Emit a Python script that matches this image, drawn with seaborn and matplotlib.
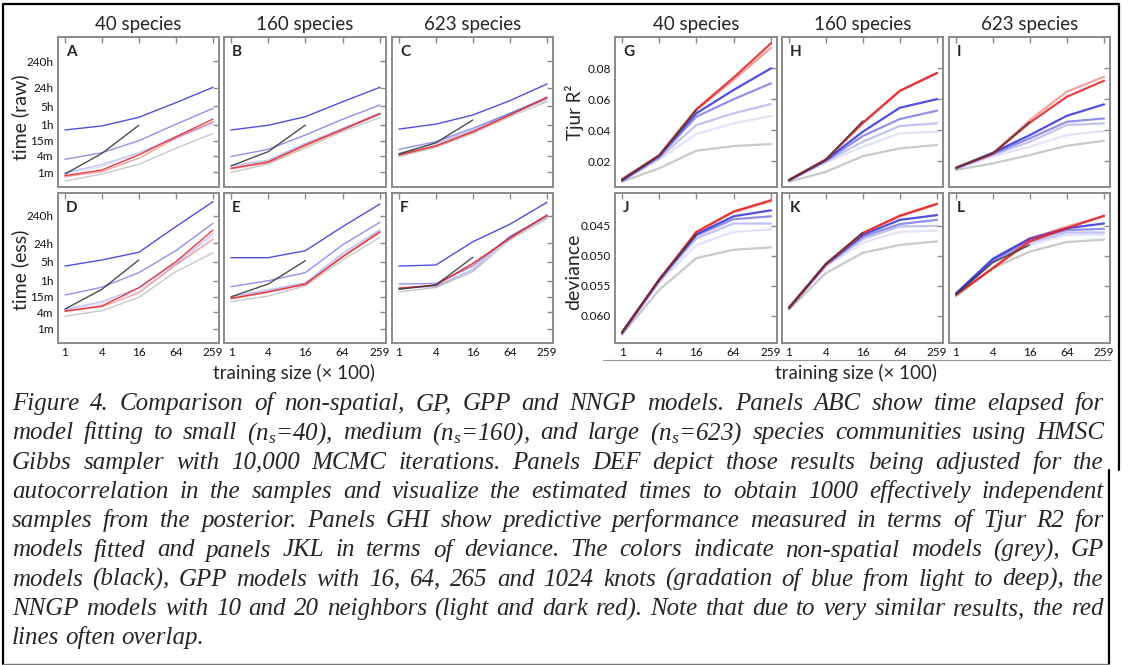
import matplotlib
matplotlib.use("Agg")
import matplotlib.pyplot as plt
import seaborn as sns
from matplotlib.lines import Line2D
from matplotlib.ticker import FixedLocator, NullLocator, FixedFormatter

# ---------------------------------------------------------------------------
# data
# ---------------------------------------------------------------------------
sizes = [1, 4, 16, 64, 259]
gp_sizes = [1, 4, 16]
species = ["40 species", "160 species", "623 species"]
series = ["non-spatial", "GPP 16", "GPP 64", "GPP 265", "GPP 1024", "NNGP 10", "NNGP 20"]

# time (raw), minutes; rows follow `series`
raw_40 = [[0.46, 0.84, 1.95, 7.8, 28], [0.85, 1.6, 4.6, 19, 62], [0.95, 1.9, 5.3, 21, 72],
          [3.0, 5.3, 15, 62, 247], [38, 54, 114, 403, 1530], [0.67, 1.03, 3.3, 18.5, 78],
          [0.73, 1.19, 4.4, 21, 98]]
raw_160 = [[0.97, 2.0, 8, 33, 113], [1.5, 2.5, 11, 40, 145], [1.7, 2.8, 12, 44, 160],
           [3.8, 7.1, 24.6, 96, 330], [38, 57, 120, 437, 1530], [1.3, 2.2, 9.5, 37, 150],
           [1.38, 2.4, 10.4, 40, 160]]
raw_623 = [[3.8, 8.5, 28, 120, 440], [4.5, 10.5, 34, 145, 500], [5.0, 12, 37, 160, 540],
           [7.1, 13.8, 44, 160, 643], [41, 63, 139, 480, 2040], [4.2, 9.3, 31, 135, 620],
           [4.4, 9.7, 33, 139, 643]]
gp_raw = [[0.84, 5.0, 57], [1.7, 5.8, 58], [4.75, 12.6, 90]]

# time (ess), minutes
ess_40 = [[2.9, 4.6, 14.4, 127, 634], [4.8, 8.5, 25, 230, 2600], [5.2, 9.9, 32, 260, 3300],
          [17.5, 34, 117, 755, 7760], [205, 343, 660, 5800, 48700], [4.3, 6.5, 21, 224, 1990],
          [4.5, 6.9, 32.6, 296, 4370]]
ess_160 = [[9.9, 16, 38, 343, 2350], [14, 25, 46, 520, 4000], [15.5, 27, 50, 600, 4500],
           [35.5, 59, 117, 1230, 8500], [417, 417, 755, 5800, 40000], [12.5, 22, 42, 430, 3500],
           [13.2, 23, 44.5, 453, 3800]]
ess_623 = [[23, 33, 127, 1900, 11500], [31, 35, 140, 2300, 12500], [33, 37, 155, 2500, 13500],
           [44.5, 47, 205, 2500, 14800], [205, 224, 1620, 7100, 46000], [30, 40, 240, 2100, 15000],
           [31, 41, 258, 2170, 15800]]
gp_ess = [[5.3, 28.5, 343], [15, 44.5, 324], [28.5, 41, 430]]

# Tjur R2
r2_40 = [[0.0066, 0.0153, 0.0267, 0.0297, 0.031], [0.0070, 0.0210, 0.0375, 0.0444, 0.0491],
         [0.0072, 0.0220, 0.0433, 0.0509, 0.0569], [0.0074, 0.0228, 0.0487, 0.060, 0.0703],
         [0.0075, 0.0235, 0.0509, 0.066, 0.080], [0.0080, 0.0236, 0.0530, 0.0725, 0.0933],
         [0.0082, 0.0237, 0.0535, 0.074, 0.0962]]
r2_160 = [[0.0066, 0.013, 0.0232, 0.0282, 0.0304], [0.0072, 0.019, 0.0293, 0.0379, 0.039],
          [0.0074, 0.0198, 0.0325, 0.0427, 0.0444], [0.0075, 0.0203, 0.0362, 0.0472, 0.0526],
          [0.0076, 0.0207, 0.039, 0.0545, 0.0601], [0.0077, 0.021, 0.0445, 0.0652, 0.0768],
          [0.0078, 0.021, 0.0448, 0.0655, 0.0771]]
r2_623 = [[0.0142, 0.0185, 0.0239, 0.0299, 0.0331], [0.0150, 0.023, 0.0293, 0.0368, 0.0394],
          [0.0152, 0.024, 0.0325, 0.0433, 0.0444], [0.0154, 0.0248, 0.0347, 0.0454, 0.0476],
          [0.0156, 0.0254, 0.0368, 0.0493, 0.0567], [0.0157, 0.025, 0.0465, 0.0649, 0.0746],
          [0.0156, 0.0248, 0.0448, 0.0616, 0.072]]
gp_r2 = [[0.0080, 0.0236, 0.0530], [0.0077, 0.021, 0.046], [0.0156, 0.025, 0.0454]]

# deviance
dev_40 = [[0.0632, 0.0557, 0.0504, 0.049, 0.0486], [0.0631, 0.0545, 0.0482, 0.046, 0.0456],
          [0.0630, 0.0543, 0.0471, 0.0446, 0.0446], [0.0629, 0.0541, 0.0466, 0.0439, 0.0434],
          [0.0629, 0.054, 0.0464, 0.0434, 0.0424], [0.0628, 0.054, 0.0461, 0.0427, 0.0409],
          [0.0628, 0.054, 0.046, 0.0426, 0.0407]]
dev_160 = [[0.059, 0.0529, 0.0495, 0.0482, 0.0476], [0.0589, 0.0518, 0.0478, 0.046, 0.0458],
           [0.0588, 0.0516, 0.0472, 0.0451, 0.045], [0.0588, 0.0515, 0.0468, 0.0447, 0.044],
           [0.0587, 0.0514, 0.0465, 0.044, 0.0432], [0.0587, 0.0514, 0.0462, 0.0434, 0.0414],
           [0.0587, 0.0514, 0.0462, 0.0433, 0.0413]]
dev_623 = [[0.0568, 0.0521, 0.0493, 0.0477, 0.0473], [0.0565, 0.0513, 0.0482, 0.0465, 0.0465],
           [0.0564, 0.051, 0.0478, 0.0461, 0.0461], [0.0564, 0.0508, 0.0473, 0.0457, 0.0455],
           [0.0563, 0.0505, 0.0471, 0.0454, 0.0446], [0.0566, 0.052, 0.0472, 0.0451, 0.0434],
           [0.0565, 0.0521, 0.0476, 0.0454, 0.0433]]
gp_dev = [[0.0628, 0.054, 0.0463], [0.0587, 0.0513, 0.0461], [0.0565, 0.0511, 0.0482]]

time_ticks = [1, 4, 15, 60, 300, 1440, 14400]
time_labels = ["1m", "4m", "15m", "1h", "5h", "24h", "240h"]
r2_ticks = [0.02, 0.04, 0.06, 0.08]
dev_ticks = [0.045, 0.050, 0.055, 0.060]

caption_lines = [
    "Figure 4. Comparison of non-spatial, GP, GPP and NNGP models. Panels ABC show time elapsed for",
    "model fitting to small (n$_s$=40), medium (n$_s$=160), and large (n$_s$=623) species communities using HMSC",
    "Gibbs sampler with 10,000 MCMC iterations. Panels DEF depict those results being adjusted for the",
    "autocorrelation in the samples and visualize the estimated times to obtain 1000 effectively independent",
    "samples from the posterior. Panels GHI show predictive performance measured in terms of Tjur R2 for",
    "models fitted and panels JKL in terms of deviance. The colors indicate non-spatial models (grey), GP",
    "models (black), GPP models with 16, 64, 265 and 1024 knots (gradation of blue from light to deep), the",
    "NNGP models with 10 and 20 neighbors (light and dark red). Note that due to very similar results, the red",
    "lines often overlap.",
]

# ---------------------------------------------------------------------------
# style
# ---------------------------------------------------------------------------
sns.set_style("white")
plt.rcParams["font.family"] = ["Lato", "DejaVu Sans"]
plt.rcParams["mathtext.fontset"] = "custom"
plt.rcParams["mathtext.it"] = "Liberation Serif:italic"
plt.rcParams["mathtext.rm"] = "Liberation Serif:italic"

colors = ["#c9c9c9", "#2424d8", "#2424d8", "#2424d8", "#2424d8", "#e83030", "#e02020"]
alphas = [1.0, 0.13, 0.28, 0.5, 0.8, 0.45, 0.85]

W, H = 1131, 665
fig = plt.figure(figsize=(W / 100, H / 100), dpi=100)


def px(x, y):
    return x / W, 1 - y / H


def add_axes(x0, x1, y0, y1):
    return fig.add_axes([x0 / W, 1 - y1 / H, (x1 - x0) / W, (y1 - y0) / H])


col_x = [(58, 219), (224, 386), (392, 553), (615, 777), (782, 943), (949, 1110)]
row_y = [(37, 187), (193, 343)]
letters = ["A", "B", "C", "G", "H", "I", "D", "E", "F", "J", "K", "L"]

panels = [[raw_40, raw_160, raw_623, r2_40, r2_160, r2_623],
          [ess_40, ess_160, ess_623, dev_40, dev_160, dev_623]]
gps = [[*gp_raw, *gp_r2], [*gp_ess, *gp_dev]]

for r in range(2):
    for c in range(6):
        ax = add_axes(*col_x[c], *row_y[r])
        rows = panels[r][c]
        is_time = c < 3
        lw = 1.0 if is_time else 1.6
        for name, vals, col, a in zip(series, rows, colors, alphas):
            sns.lineplot(x=sizes, y=vals, ax=ax, color=col, alpha=a, lw=lw)
        sns.lineplot(x=gp_sizes, y=gps[r][c], ax=ax, color="#3a3a3a", alpha=0.9, lw=1.0)

        ax.set_xscale("log", base=4)
        ax.set_xlim(0.77, 324)
        ax.xaxis.set_major_locator(FixedLocator(sizes))
        ax.xaxis.set_minor_locator(NullLocator())
        ax.xaxis.set_major_formatter(FixedFormatter([str(s) for s in sizes]))

        if is_time:
            ax.set_yscale("log")
            ax.set_ylim((0.273, 1.19e5) if r == 0 else (0.297, 1.016e5))
            ax.yaxis.set_major_locator(FixedLocator(time_ticks))
            ax.yaxis.set_minor_locator(NullLocator())
            ax.yaxis.set_major_formatter(FixedFormatter(time_labels))
        elif r == 0:
            ax.set_ylim(0.0032, 0.1003)
            ax.yaxis.set_major_locator(FixedLocator(r2_ticks))
            ax.yaxis.set_major_formatter(FixedFormatter(["0.02", "0.04", "0.06", "0.08"]))
        else:
            ax.set_ylim(0.0646, 0.0395)
            ax.yaxis.set_major_locator(FixedLocator(dev_ticks))
            ax.yaxis.set_major_formatter(FixedFormatter(["0.045", "0.050", "0.055", "0.060"]))

        ax.tick_params(direction="in", length=4, width=1, color="#8a8a8a", top=True, right=True,
                       labelsize=8.5, labelcolor="#111111", pad=3)
        if r == 0:
            ax.tick_params(labelbottom=False)
        if c not in (0, 3):
            ax.tick_params(labelleft=False)
        for sp in ax.spines.values():
            sp.set_color("#8a8a8a")
            sp.set_linewidth(1.4)
        ax.set_xlabel("")
        ax.set_ylabel("")
        ax.text(0.05, 0.9, letters[r * 6 + c], transform=ax.transAxes, fontsize=11,
                fontweight="bold", va="center", ha="left")
        if r == 0:
            ax.set_title(species[c % 3], fontsize=13.5, pad=5)

# axis labels
fig.text(*px(20, 117), "time (raw)", rotation=90, ha="center", va="center", fontsize=14)
fig.text(*px(20, 270), "time (ess)", rotation=90, ha="center", va="center", fontsize=14)
fig.text(*px(575, 112), "Tjur R²", rotation=90, ha="center", va="center", fontsize=13.5)
fig.text(*px(574, 272), "deviance", rotation=90, ha="center", va="center", fontsize=14)
fig.text(*px(294, 373), "training size (× 100)", ha="center", va="center", fontsize=13.5)
fig.text(*px(856, 373), "training size (× 100)", ha="center", va="center", fontsize=13.5)

# frame lines
fig.add_artist(Line2D([px(603, 0)[0], px(1110, 0)[0]], [px(0, 360)[1]] * 2, color="#999999", lw=0.8))
fig.add_artist(Line2D([px(3, 0)[0], px(1119, 0)[0]], [px(0, 4)[1]] * 2, color="black", lw=1.6))
fig.add_artist(Line2D([px(3, 0)[0]] * 2, [px(0, 4)[1], px(0, 664)[1]], color="black", lw=1.6))
fig.add_artist(Line2D([px(1119, 0)[0]] * 2, [px(0, 4)[1], px(0, 470)[1]], color="black", lw=1.6))
fig.add_artist(Line2D([px(1109, 0)[0]] * 2, [px(0, 470)[1], px(0, 664)[1]], color="black", lw=1.6))
fig.add_artist(Line2D([px(3, 0)[0], px(1109, 0)[0]], [px(0, 663.5)[1]] * 2, color="#777777", lw=1.0))

# justified caption
renderer = fig.canvas.get_renderer()
cap_left, cap_right = 12, 1104
cap_font = ["Liberation Serif", "DejaVu Serif"]
for i, line in enumerate(caption_lines):
    y = 410 + i * 29.3
    words = line.split(" ")
    texts = [fig.text(0, 0, w, fontsize=18, family=cap_font, style="italic") for w in words]
    widths = [t.get_window_extent(renderer).width for t in texts]
    if i < len(caption_lines) - 1:
        gap = (cap_right - cap_left - sum(widths)) / (len(words) - 1)
    else:
        gap = 6
    x = cap_left
    for t, w in zip(texts, widths):
        t.set_position(px(x, y))
        x += w + gap

fig.savefig("out.png", dpi=100)
